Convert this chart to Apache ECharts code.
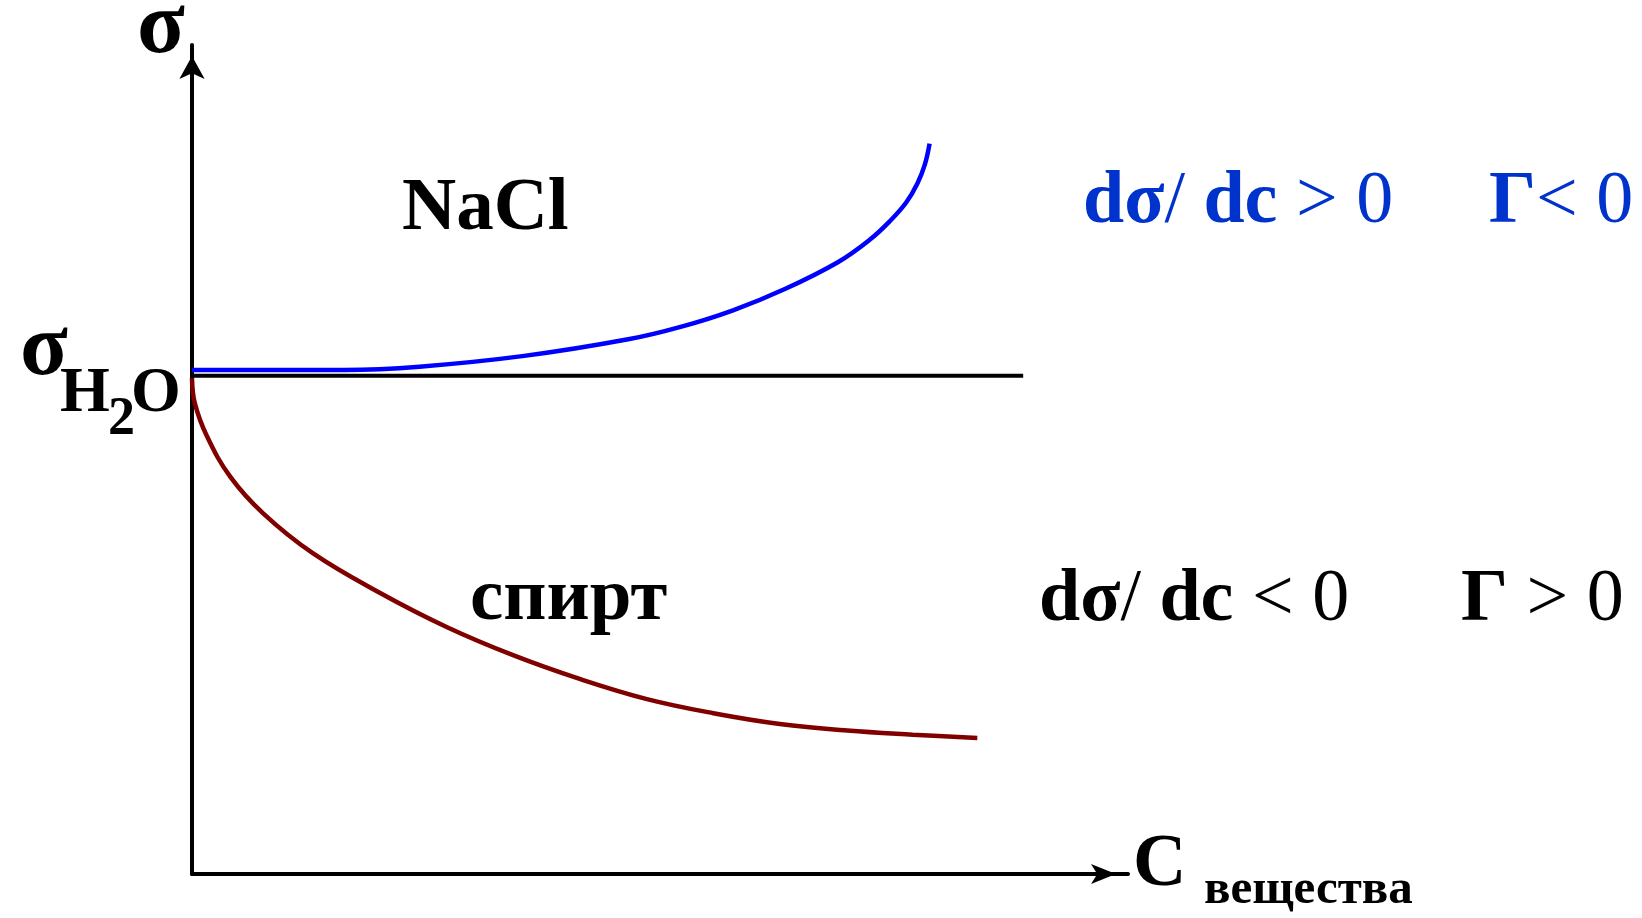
<!DOCTYPE html>
<html>
<head>
<meta charset="utf-8">
<title>σ(C)</title>
<script src="https://cdn.jsdelivr.net/npm/echarts@6/dist/echarts.min.js"></script>
<style>
  html, body { margin: 0; padding: 0; background: #fff; }
  #main { width: 1642px; height: 918px; }
</style>
</head>
<body>
<div id="main"></div>
<script>
// концентрация (усл. ед.) и поверхностное натяжение (усл. ед.)
var naclC = [0, 1.63, 2.43, 3.55, 4.66, 5.22, 5.78, 6.34, 6.90, 7.24, 7.46, 7.63, 7.75, 7.83, 7.88];
var naclSigma = [6.08, 6.08, 6.12, 6.25, 6.45, 6.60, 6.80, 7.06, 7.38, 7.65, 7.88, 8.10, 8.33, 8.56, 8.81];

var alcoholC = [0, 0.03, 0.16, 0.41, 0.76, 1.29, 2.01, 2.72, 3.43, 4.15, 4.86, 5.57, 6.28, 7.00, 7.70, 8.39];
var alcoholSigma = [5.98, 5.68, 5.28, 4.79, 4.35, 3.87, 3.39, 2.98, 2.64, 2.35, 2.11, 1.94, 1.81, 1.73, 1.68, 1.64];

// σ чистой воды
var waterC = [0, 8.88];
var waterSigma = [6.01, 6.01];

function pairs(xs, ys) {
  return xs.map(function (x, i) { return [x, ys[i]]; });
}

var serif = '"Liberation Serif", "Times New Roman", serif';
function txt(x, y, text, size) {
  return {
    type: 'text', z: 10,
    style: {
      x: x, y: y, text: text,
      font: 'bold ' + size + 'px ' + serif,
      fill: '#000', align: 'left', verticalAlign: 'middle'
    }
  };
}
function mixed(x, y, text, color) {
  return {
    type: 'text', z: 10,
    style: {
      x: x, y: y, align: 'left', verticalAlign: 'middle', text: text,
      rich: {
        b: { font: 'bold 74px ' + serif, fill: color },
        r: { font: '74px ' + serif, fill: color }
      }
    }
  };
}

var myChart = echarts.init(document.getElementById('main'));

var option = {
  animation: false,
  backgroundColor: '#fff',
  grid: { left: 192, top: 45, right: 514, bottom: 44, containLabel: false },
  xAxis: {
    type: 'value', min: 0, max: 10,
    axisLine: {
      show: true, onZero: false,
      symbol: ['none', 'arrow'], symbolSize: [15, 25], symbolOffset: [0, -12],
      lineStyle: { color: '#000', width: 4 }
    },
    axisTick: { show: false }, axisLabel: { show: false }, splitLine: { show: false }
  },
  yAxis: {
    type: 'value', min: 0, max: 10,
    axisLine: {
      show: true, onZero: false,
      symbol: ['none', 'arrow'], symbolSize: [19, 23], symbolOffset: [0, -11],
      lineStyle: { color: '#000', width: 4 }
    },
    axisTick: { show: false }, axisLabel: { show: false }, splitLine: { show: false }
  },
  series: [
    {
      name: 'H2O', type: 'line', data: pairs(waterC, waterSigma),
      showSymbol: false, lineStyle: { color: '#000', width: 4 }
    },
    {
      name: 'NaCl', type: 'line', data: pairs(naclC, naclSigma),
      smooth: 0.4, showSymbol: false,
      lineStyle: { color: '#0000ff', width: 4.5 }
    },
    {
      name: 'спирт', type: 'line', data: pairs(alcoholC, alcoholSigma),
      smooth: 0.4, showSymbol: false,
      lineStyle: { color: '#800000', width: 4.5 }
    }
  ],
  graphic: [
    txt(137, 29, 'σ', 88),
    txt(20, 351, 'σ', 88),
    txt(60, 394, 'H', 64),
    txt(108, 420, '2', 54),
    txt(131, 394, 'O', 64),
    txt(1133, 866, 'C', 74),
    txt(1204, 890, 'вещества', 49),
    txt(402, 210, 'NaCl', 75),
    txt(470, 600, 'спирт', 75),
    mixed(1083, 203, '{b|dσ}{r|/ }{b|dc}{r| > 0}', '#0033cc'),
    mixed(1489, 203, '{b|Γ}{r|< 0}', '#0033cc'),
    mixed(1039, 601, '{b|dσ}{r|/ }{b|dc}{r| < 0}', '#000'),
    mixed(1461, 601, '{b|Γ}{r| > 0}', '#000')
  ]
};

myChart.setOption(option);
</script>
</body>
</html>
